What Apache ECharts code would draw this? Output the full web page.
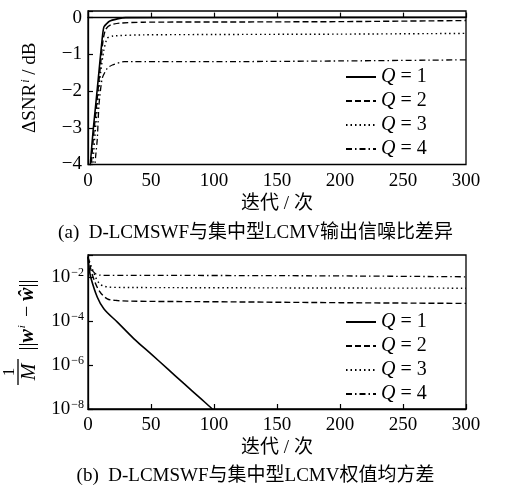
<!DOCTYPE html>
<html><head><meta charset="utf-8">
<script src="https://cdn.jsdelivr.net/npm/echarts@6/dist/echarts.min.js"></script>
<style>html,body{margin:0;padding:0;background:#fff}#c{width:511px;height:489px}</style>
</head><body><div id="c"></div>
<script>
// ---- data ----
const seriesNames = ['Q = 1', 'Q = 2', 'Q = 3', 'Q = 4'];
const xTicks = [0, 50, 100, 150, 200, 250, 300];
const snrTicks = [0, -1, -2, -3, -4];
const logTicks = [1e-2, 1e-4, 1e-6, 1e-8];

// (a) SNR difference, dB
const snrQ1 = [[1.5,-4.2],[2.1,-3.88],[4,-3.1],[6.1,-2.38],[8.7,-1.47],[11.3,-0.56],[12.7,-0.25],[17,-0.1],[23.3,-0.035],[30,0],[100,0.005],[300,0.01]];
const snrQ2 = [[2.3,-4.2],[2.8,-3.9],[4.7,-3.1],[6.8,-2.38],[9.4,-1.47],[12,-0.6],[14,-0.32],[18,-0.2],[25,-0.15],[44,-0.125],[100,-0.12],[200,-0.11],[300,-0.08]];
const snrQ3 = [[3.5,-4.2],[4,-3.9],[6,-3.0],[8,-2.2],[10,-1.5],[12.5,-0.9],[15.3,-0.56],[20,-0.5],[44,-0.47],[100,-0.46],[200,-0.45],[300,-0.43]];
const snrQ4 = [[5,-4.2],[6,-3.8],[7.4,-3.29],[8.7,-2.38],[11.3,-1.65],[15.3,-1.38],[19.3,-1.29],[28.6,-1.2],[100,-1.2],[200,-1.18],[300,-1.15]];

// (b) weight mean-square error
const mseQ1 = [[0,0.079],[0.8,0.028],[2.1,0.01],[7.4,1.2e-3],[12.7,3.5e-4],[23.3,8.9e-5],[36.5,1.55e-5],[50,3.2e-6],[63,6.8e-7],[76,1.45e-7],[90,2.8e-8],[98.7,1e-8]];
const mseQ2 = [[0,0.085],[1.5,0.035],[3.4,0.0126],[8.7,2.45e-3],[15.3,1.02e-3],[23.3,8.5e-4],[40,7.9e-4],[100,7.5e-4],[200,6.8e-4],[300,6.3e-4]];
const mseQ3 = [[0,0.085],[1.5,0.045],[3.4,0.0234],[7.4,6.9e-3],[11.3,4.1e-3],[20,3.4e-3],[50,3.3e-3],[100,3.25e-3],[200,3.15e-3],[300,3.1e-3]];
const mseQ4 = [[0,0.08],[2,0.03],[4,0.018],[8,0.0125],[15,0.0118],[100,0.0117],[200,0.0112],[300,0.0102]];

const serif = '"Liberation Serif","Noto Sans CJK SC",serif';
const styles = [
  {type:'solid', width:1.6},
  {type:[6,3], width:1.4},
  {type:[1.5,3], width:1.4},
  {type:[6,3,1.5,3], width:1.3}
];
const snrData = [snrQ1, snrQ2, snrQ3, snrQ4];
const mseData = [mseQ1, mseQ2, mseQ3, mseQ4];

function mkSeries(dataArr, idx, sm) {
  return dataArr.map((d, i) => ({
    name: seriesNames[i], type: 'line', xAxisIndex: idx, yAxisIndex: idx,
    data: d, symbol: 'none', smooth: sm, clip: true,
    lineStyle: {color: '#000', width: styles[i].width, type: styles[i].type},
    itemStyle: {color: '#000'}, z: 5 - i
  }));
}

const legendBase = {
  orient: 'vertical', left: 340, itemWidth: 30, itemHeight: 14, itemGap: 4,
  selectedMode: false,
  data: seriesNames,
  itemStyle: {opacity: 0},
  formatter: n => '{q|Q}' + n.slice(1),
  textStyle: {fontFamily: serif, fontSize: 20, color: '#000',
    rich: {q: {fontFamily: serif, fontStyle: 'italic', fontSize: 20, color: '#000'}}}
};

const axisCommonX = {
  type: 'value', min: 0, max: 300, interval: 50,
  axisLine: {show: true, lineStyle: {color: '#000', width: 1.3}},
  axisTick: {show: true, inside: true, length: 5, lineStyle: {color: '#000', width: 1.2}},
  axisLabel: {fontFamily: serif, fontSize: 19, color: '#000', margin: 7},
  splitLine: {show: false},
  name: '迭代 / 次', nameLocation: 'middle', nameGap: 30,
  nameTextStyle: {fontFamily: serif, fontSize: 19, color: '#000'}
};

const supRich = {
  n: {fontFamily: serif, fontSize: 19, color: '#000', verticalAlign: 'bottom', lineHeight: 20},
  s: {fontFamily: serif, fontSize: 12, color: '#000', verticalAlign: 'top', lineHeight: 12, padding: [0, 0, 12, 1]},
  si: {fontFamily: serif, fontSize: 12, fontStyle: 'italic', color: '#000', verticalAlign: 'top', lineHeight: 12, padding: [0, 0, 12, 1]}
};

const chart = echarts.init(document.getElementById('c'));
chart.setOption({
  animation: false,
  backgroundColor: '#fff',
  title: [
    {text: '(a)  D-LCMSWF与集中型LCMV输出信噪比差异', left: 'center', top: 219,
     textStyle: {fontFamily: serif, fontSize: 19, fontWeight: 'normal', color: '#000'}},
    {text: '(b)  D-LCMSWF与集中型LCMV权值均方差', left: 'center', top: 462,
     textStyle: {fontFamily: serif, fontSize: 19, fontWeight: 'normal', color: '#000'}}
  ],
  grid: [
    {left: 88, top: 11, width: 378, height: 153.5, show: true, borderColor: '#000', borderWidth: 1.3},
    {left: 88, top: 255, width: 378, height: 154, show: true, borderColor: '#000', borderWidth: 1.3}
  ],
  legend: [
    Object.assign({}, legendBase, {top: 62}),
    Object.assign({}, legendBase, {top: 307})
  ],
  xAxis: [
    Object.assign({}, axisCommonX, {gridIndex: 0}),
    Object.assign({}, axisCommonX, {gridIndex: 1})
  ],
  yAxis: [
    {gridIndex: 0, type: 'value', min: -4, max: 0.18, interval: 1,
     axisLine: {show: true, lineStyle: {color: '#000', width: 1.3}},
     axisTick: {show: true, inside: true, length: 5, lineStyle: {color: '#000', width: 1.2}},
     splitLine: {show: false},
     axisLabel: {fontFamily: serif, fontSize: 19, color: '#000', margin: 6,
       formatter: v => snrTicks.indexOf(v) >= 0 ? String(v).replace('-', '−') : ''},
     name: '{n|ΔSNR}{si|i}{n| / dB}', nameLocation: 'middle', nameGap: 48, nameRotate: 90,
     nameTextStyle: {fontFamily: serif, fontSize: 19, color: '#000', rich: supRich}
    },
    {gridIndex: 1, type: 'log', logBase: 10, min: 1e-8, max: 1e-1, interval: 2,
     axisLine: {show: true, lineStyle: {color: '#000', width: 1.3}},
     axisTick: {show: true, inside: true, length: 5, lineStyle: {color: '#000', width: 1.2}},
     splitLine: {show: false},
     axisLabel: {fontFamily: serif, fontSize: 19, color: '#000', margin: 4,
       formatter: v => {
         const e = Math.round(Math.log10(v));
         if (!logTicks.some(t => Math.abs(Math.log10(t) - e) < 1e-6)) return '';
         return '{n|10}{s|−' + Math.abs(e) + '}';
       },
       rich: supRich}
    }
  ],
  graphic: [
    {type: 'group', x: 27, y: 330, rotation: Math.PI / 2, children: [
      {type: 'text', x: 15, y: 0, style: {
        text: '{n|||}{w|w}{s|i}{n| − }{w|ŵ}{n|||}', fontFamily: serif, fontSize: 20, fill: '#000',
        align: 'center', verticalAlign: 'middle',
        rich: {n: {fontFamily: serif, fontSize: 20, fill: '#000', verticalAlign: 'bottom', lineHeight: 21},
               w: {fontFamily: serif, fontSize: 20, fontStyle: 'italic', fontWeight: 'bold', fill: '#000', verticalAlign: 'bottom', lineHeight: 21},
               s: {fontFamily: serif, fontSize: 11, fontStyle: 'italic', fill: '#000', verticalAlign: 'top', lineHeight: 11, padding: [0, 3, 12, 1]}}}},
      {type: 'text', x: -42, y: -17, style: {text: '1', fontFamily: serif, fontSize: 17, fill: '#000', align: 'center', verticalAlign: 'middle'}},
      {type: 'line', shape: {x1: -55, y1: -9, x2: -29, y2: -9}, style: {stroke: '#000', lineWidth: 1.3}},
      {type: 'text', x: -42, y: 3, style: {text: 'M', fontFamily: serif, fontSize: 20, fontStyle: 'italic', fill: '#000', align: 'center', verticalAlign: 'middle'}}
    ]}
  ],
  series: mkSeries(snrData, 0, 0.2).concat(mkSeries(mseData, 1, 0.35))
});
</script></body></html>
